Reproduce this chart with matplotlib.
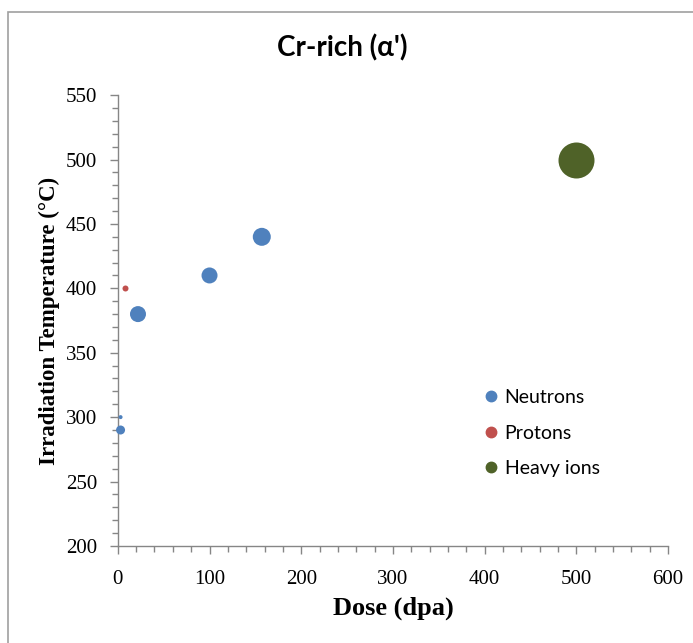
import numpy as np
import matplotlib.pyplot as plt
from matplotlib.lines import Line2D
from matplotlib.patches import Rectangle
from matplotlib.ticker import MultipleLocator

# dose (dpa), irradiation temperature (C), bubble diameter (px)
neutron_dose = [3, 3, 22, 100, 157]
neutron_temp = [300, 290, 380, 410, 440]
neutron_size = [4, 9, 16, 16, 18]

proton_dose = [8]
proton_temp = [400]
proton_size = [6]

heavy_dose = [500]
heavy_temp = [500]
heavy_size = [36]

series = ['Neutrons', 'Protons', 'Heavy ions']
colors = ['#4F81BD', '#C0504D', '#4F6228']

fig = plt.figure(figsize=(6.93, 6.43), dpi=100)
ax = fig.add_axes([0.170, 0.151, 0.794, 0.701])

# outer chart border
fig.patches.append(Rectangle((8 / 693, -0.05), 1.0, 1 - 12 / 643 + 0.05,
                             transform=fig.transFigure, fill=False,
                             edgecolor='#A0A0A0', linewidth=1.2))

def area(d):
    return (np.array(d) * 0.72) ** 2

ax.scatter(neutron_dose, neutron_temp, s=area(neutron_size), color=colors[0], zorder=3, clip_on=False, linewidths=0)
ax.scatter(proton_dose, proton_temp, s=area(proton_size), color=colors[1], zorder=3, clip_on=False, linewidths=0)
ax.scatter(heavy_dose, heavy_temp, s=area(heavy_size), color=colors[2], zorder=3, clip_on=False, linewidths=0)

ax.set_xlim(0, 600)
ax.set_ylim(200, 550)
ax.xaxis.set_major_locator(MultipleLocator(100))
ax.xaxis.set_minor_locator(MultipleLocator(20))
ax.yaxis.set_major_locator(MultipleLocator(50))
ax.yaxis.set_minor_locator(MultipleLocator(10))

for s in ['top', 'right']:
    ax.spines[s].set_visible(False)
for s in ['left', 'bottom']:
    ax.spines[s].set_color('#868686')
    ax.spines[s].set_linewidth(1.0)

ax.tick_params(which='both', direction='out', color='#868686', width=1.0)
ax.tick_params(which='major', length=6)
ax.tick_params(which='minor', length=4)
ax.tick_params(axis='y', which='major', pad=9)
ax.tick_params(axis='x', which='major', pad=11)
for lab in ax.get_xticklabels() + ax.get_yticklabels():
    lab.set_fontfamily('Liberation Serif')
    lab.set_fontsize(15)

ax.set_xlabel('Dose (dpa)', fontfamily='Liberation Serif', fontweight='bold', fontsize=19, labelpad=6)
ax.set_ylabel('Irradiation Temperature (°C)', fontfamily='Liberation Serif', fontweight='bold', fontsize=16.5, labelpad=4)
fig.text(0.494, 1 - 48 / 643, "Cr-rich (α')", ha='center', va='center',
         fontfamily='Lato', fontweight='bold', fontsize=20)

handles = [Line2D([], [], marker='o', linestyle='none', color=c, markersize=7.5) for c in colors]
ax.legend(handles, series, loc='upper left', bbox_to_anchor=(0.665, 0.348), frameon=False,
          prop={'family': 'Lato', 'size': 14}, handletextpad=0.28, labelspacing=0.95,
          handlelength=0.8, borderpad=0, borderaxespad=0)

fig.savefig('out.png', dpi=100)
